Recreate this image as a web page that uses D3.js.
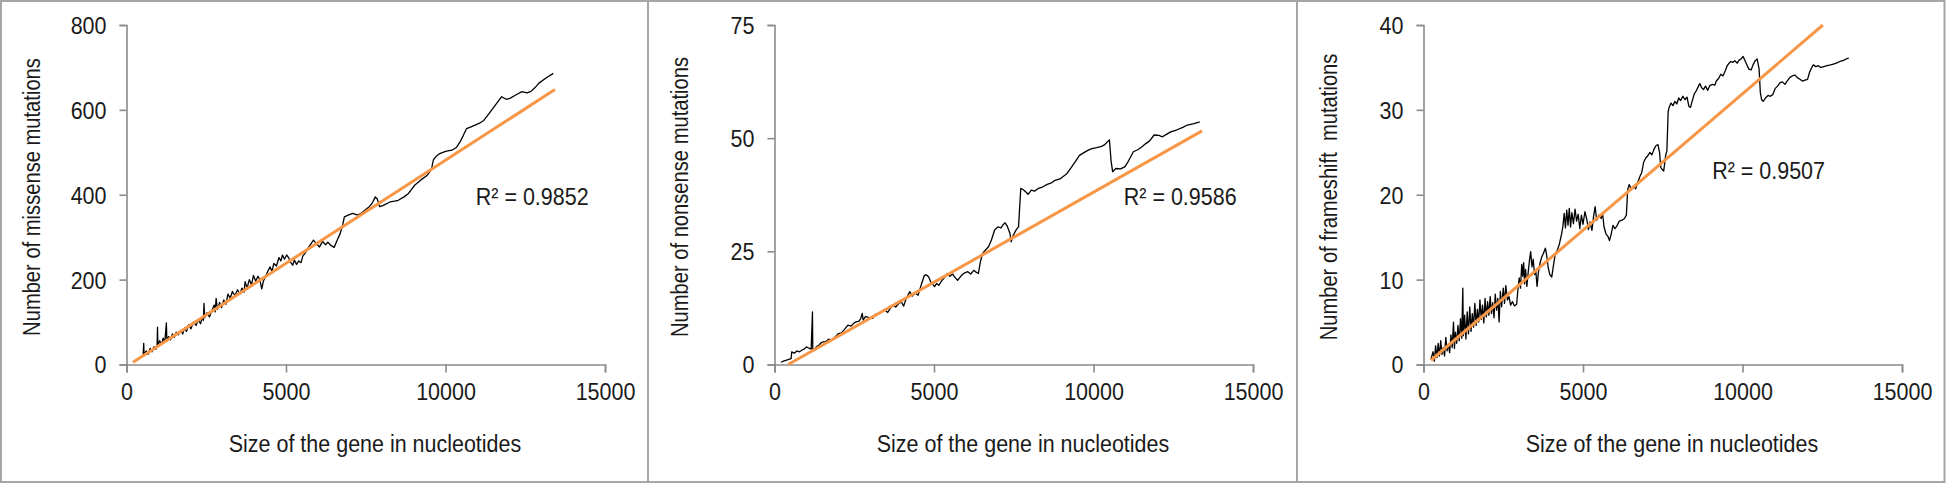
<!DOCTYPE html>
<html>
<head>
<meta charset="utf-8">
<script src="https://cdn.jsdelivr.net/npm/d3@7"></script>
<style>
  html, body { margin: 0; padding: 0; background: #fff; }
  svg { display: block; }
  text { font-family: "Liberation Sans", Arial, sans-serif; fill: #1a1a1a; white-space: pre; }
</style>
</head>
<body>
<svg id="chart" width="1946" height="484"></svg>
<script>
// ---------- DATA ----------
const xTicks = [0, 5000, 10000, 15000];
const xTitle = "Size of the gene in nucleotides";

const missenseTicks = [0, 200, 400, 600, 800];
const nonsenseTicks = [0, 25, 50, 75];
const frameshiftTicks = [0, 10, 20, 30, 40];

const yTitles = ["Number of missense mutations", "Number of nonsense mutations", "Number of frameshift  mutations"];
const r2Labels = ["R² = 0.9852", "R² = 0.9586", "R² = 0.9507"];

// [gene size, number of mutations]
const missense = [[250,8],[350,12],[450,17],[520,22],[540,50],[550,24],[620,32],[680,24],[740,38],[800,30],[860,42],[920,36],[960,47],[972,88],[985,44],[1040,56],[1100,48],[1150,62],[1200,52],[1250,98],[1265,58],[1320,66],[1380,58],[1440,72],[1500,64],[1560,76],[1620,70],[1700,80],[1760,72],[1820,86],[1880,78],[1950,94],[2020,84],[2100,100],[2180,92],[2250,106],[2320,96],[2380,112],[2410,104],[2430,144],[2450,110],[2520,122],[2600,112],[2680,128],[2750,140],[2780,124],[2810,156],[2850,130],[2920,146],[2980,134],[3050,152],[3120,142],[3180,166],[3250,156],[3320,172],[3400,162],[3480,176],[3550,166],[3620,180],[3680,170],[3720,195],[3780,180],[3850,200],[3920,188],[3980,210],[4050,196],[4120,208],[4180,200],[4240,178],[4290,196],[4350,206],[4420,218],[4500,230],[4560,220],[4620,238],[4700,232],[4780,252],[4840,244],[4890,258],[4950,248],[5020,258],[5080,252],[5150,240],[5210,234],[5260,246],[5330,236],[5400,244],[5470,240],[5530,256],[5600,262],[5670,272],[5760,282],[5860,293],[5950,285],[6050,277],[6150,290],[6240,282],[6310,288],[6420,280],[6510,276],[6600,292],[6700,309],[6780,330],[6830,348],[6950,352],[7090,356],[7250,352],[7350,356],[7500,365],[7610,372],[7700,380],[7800,395],[7860,390],[7935,372],[8050,375],[8260,383],[8400,385],[8520,387],[8700,395],[8840,403],[9040,423],[9230,435],[9430,446],[9560,460],[9620,482],[9700,490],[9820,497],[10000,502],[10200,505],[10350,512],[10460,525],[10560,540],[10660,556],[10800,560],[11050,568],[11200,575],[11370,592],[11550,610],[11760,631],[11900,625],[12020,627],[12200,635],[12400,643],[12550,640],[12670,643],[12800,652],[12930,663],[13150,675],[13380,686]];

const nonsense = [[200,0.5],[300,0.8],[400,1.0],[520,1.3],[540,2.8],[620,2.5],[700,3.0],[780,2.8],[870,3.2],[950,3.5],[1000,3.9],[1080,3.6],[1150,3.4],[1190,11.6],[1200,3.2],[1260,3.5],[1330,4.0],[1400,4.3],[1460,4.8],[1520,5.0],[1600,5.0],[1700,5.6],[1800,5.4],[1900,6.1],[2000,6.8],[2100,7.0],[2200,7.8],[2300,8.7],[2400,8.5],[2500,9.2],[2560,9.4],[2650,9.6],[2700,10.1],[2750,11.3],[2780,9.8],[2850,10.6],[2950,10.4],[3080,10.2],[3150,11.0],[3250,11.2],[3350,11.6],[3470,12.0],[3550,11.5],[3650,12.6],[3720,13.1],[3800,12.7],[3900,13.5],[3980,13.8],[4050,12.9],[4120,14.4],[4240,16.1],[4320,15.1],[4400,15.8],[4500,15.3],[4600,17.6],[4700,19.7],[4760,19.8],[4830,19.4],[4900,18.2],[5020,17.2],[5080,17.9],[5150,17.5],[5250,18.6],[5330,19.2],[5410,20.1],[5500,19.5],[5580,20.0],[5650,19.3],[5740,18.6],[5850,19.6],[5950,20.2],[6060,20.5],[6150,20.0],[6250,20.8],[6320,20.4],[6390,20.1],[6450,22.5],[6520,24.5],[6600,25.2],[6710,26.0],[6800,27.5],[6900,29.7],[7000,30.4],[7100,30.2],[7180,31.0],[7230,31.3],[7300,30.5],[7380,29.0],[7420,27.1],[7480,28.5],[7580,29.8],[7650,30.4],[7720,38.9],[7800,38.6],[7880,38.1],[7950,37.6],[8050,38.5],[8150,38.3],[8270,38.9],[8400,39.2],[8550,39.8],[8700,40.2],[8790,40.7],[8950,41.0],[9100,41.8],[9170,42.2],[9300,43.5],[9430,44.8],[9560,46.2],[9700,46.8],[9850,47.4],[9950,47.7],[10100,47.9],[10250,48.2],[10340,48.5],[10450,49.3],[10500,49.6],[10550,45.0],[10600,42.6],[10700,43.3],[10850,43.2],[10990,43.7],[11100,45.0],[11250,47.0],[11400,47.5],[11500,48.0],[11640,48.8],[11760,49.4],[11900,50.7],[12050,50.6],[12160,50.3],[12300,50.9],[12420,51.4],[12600,51.8],[12800,52.4],[12940,52.9],[13150,53.2],[13330,53.6]];

const frameshift = [[230,0.6],[300,1.5],[340,0.4],[380,2.2],[420,0.8],[460,2.5],[500,1.0],[540,2.8],[580,1.2],[620,2.0],[660,1.0],[700,3.2],[740,1.6],[780,2.4],[820,1.4],[860,3.5],[900,2.0],[940,5.0],[970,1.9],[1000,3.8],[1040,2.5],[1080,4.6],[1120,2.8],[1160,5.4],[1200,3.1],[1232,9.0],[1250,3.4],[1290,5.8],[1330,3.0],[1370,6.2],[1410,3.6],[1450,6.8],[1490,3.9],[1530,6.0],[1570,4.4],[1610,7.2],[1650,4.6],[1690,6.5],[1730,5.0],[1770,7.6],[1810,5.3],[1850,7.0],[1890,4.9],[1930,7.8],[1970,5.6],[2010,7.4],[2050,5.8],[2090,8.0],[2130,6.0],[2170,7.3],[2210,5.5],[2250,8.3],[2290,6.4],[2330,7.8],[2370,5.0],[2410,8.6],[2450,6.8],[2500,9.0],[2540,7.2],[2580,9.3],[2630,7.6],[2680,8.0],[2730,7.0],[2790,7.4],[2850,6.9],[2920,7.1],[2960,8.8],[3000,10.2],[3040,9.0],[3080,11.8],[3110,10.4],[3140,12.0],[3170,9.5],[3200,11.2],[3240,9.2],[3280,10.8],[3320,12.2],[3360,13.3],[3400,11.5],[3440,12.4],[3480,10.6],[3520,11.0],[3560,9.2],[3600,10.8],[3650,11.9],[3700,12.6],[3760,13.1],[3820,13.7],[3860,12.9],[3910,11.4],[3960,10.6],[4020,10.3],[4070,11.6],[4130,13.0],[4200,13.5],[4260,14.2],[4330,15.4],[4370,16.3],[4410,17.8],[4450,16.1],[4490,18.2],[4530,16.4],[4570,18.4],[4610,16.2],[4650,17.9],[4700,16.6],[4750,18.3],[4800,16.9],[4850,17.7],[4900,16.0],[4950,17.6],[5000,16.5],[5060,18.0],[5120,17.1],[5170,15.9],[5220,16.8],[5280,15.8],[5330,17.4],[5380,18.6],[5430,17.0],[5500,17.6],[5570,17.2],[5610,17.9],[5660,16.2],[5720,15.4],[5780,15.1],[5830,14.6],[5880,15.3],[5940,16.4],[6000,16.0],[6060,16.3],[6140,16.9],[6220,17.0],[6300,17.2],[6360,17.6],[6400,20.6],[6450,21.2],[6520,20.6],[6580,21.0],[6650,20.7],[6720,21.5],[6790,22.2],[6840,22.6],[6900,23.8],[6960,24.3],[7030,24.6],[7100,25.0],[7160,24.7],[7230,25.4],[7290,25.8],[7350,25.9],[7400,25.0],[7440,23.2],[7480,23.0],[7530,22.8],[7590,24.6],[7630,25.2],[7670,29.8],[7700,30.3],[7760,30.8],[7820,30.5],[7880,31.0],[7940,30.7],[8000,31.4],[8060,31.1],[8130,31.6],[8200,31.2],[8260,31.5],[8320,30.4],[8370,30.3],[8420,31.0],[8490,31.9],[8560,32.3],[8620,32.8],[8660,33.1],[8720,32.6],[8780,32.4],[8840,32.8],[8910,32.3],[8980,32.9],[9060,33.0],[9130,32.9],[9180,33.4],[9250,33.7],[9320,34.2],[9390,34.0],[9460,34.6],[9520,35.2],[9580,35.5],[9630,35.7],[9700,35.6],[9760,35.8],[9830,35.5],[9900,35.9],[9960,36.0],[10020,36.3],[10080,35.8],[10150,35.2],[10200,34.8],[10270,34.7],[10330,35.3],[10400,35.8],[10460,36.0],[10520,34.8],[10560,32.0],[10600,31.2],[10650,31.0],[10720,31.4],[10800,31.7],[10870,31.6],[10950,31.8],[11020,32.5],[11100,32.8],[11180,33.2],[11250,33.3],[11330,33.0],[11400,33.4],[11480,33.8],[11560,34.0],[11640,34.1],[11720,33.8],[11800,33.6],[11880,33.4],[11960,33.5],[12040,33.6],[12100,34.4],[12160,34.9],[12220,35.3],[12300,35.1],[12380,35.2],[12450,35.0],[12550,35.1],[12650,35.2],[12760,35.3],[12850,35.4],[12940,35.5],[13050,35.7],[13150,35.8],[13250,36.0],[13330,36.1]];

// linear trend line end points
const missenseTrend = [[204, 5.4], [13431, 648]];
const nonsenseTrend = [[428, 0], [13403, 51.6]];
const frameshiftTrend = [[234, 0.5], [12520, 40]];

// R² label anchors (data coordinates, start of text)
const r2Pos = [[10950, 395], [10950, 37], [9050, 22.9]];

// ---------- DRAW ----------
const svg = d3.select("#chart");
const W = 1946, H = 484;
const panelLefts = [0, 648, 1297];
const FS = 24, SX = 0.895, SXY = 0.84;

// frame
svg.append("rect").attr("x", 1).attr("y", 1).attr("width", W - 2.5).attr("height", H - 3)
  .attr("fill", "none").attr("stroke", "#a6a6a6").attr("stroke-width", 2);
[648, 1297].forEach(x => svg.append("line").attr("x1", x).attr("x2", x).attr("y1", 1).attr("y2", H - 2)
  .attr("stroke", "#a6a6a6").attr("stroke-width", 2));

const panels = [
  { data: missense, trend: missenseTrend, ticks: missenseTicks, ymax: 800 },
  { data: nonsense, trend: nonsenseTrend, ticks: nonsenseTicks, ymax: 75 },
  { data: frameshift, trend: frameshiftTrend, ticks: frameshiftTicks, ymax: 40 }
];

const axisColor = "#8a8a8a";

panels.forEach((p, i) => {
  const left = panelLefts[i] + 126.5;
  const right = left + 478.5;
  const top = 25, bottom = 364.5;
  const x = d3.scaleLinear().domain([0, 15000]).range([left, right]);
  const y = d3.scaleLinear().domain([0, p.ymax]).range([bottom, top]);
  const g = svg.append("g");

  // y axis
  const ya = g.append("g").attr("transform", `translate(${left},0)`)
    .call(d3.axisLeft(y).tickValues(p.ticks).tickSize(7).tickPadding(0).tickFormat(d3.format("d")));
  ya.attr("font-family", null);
  ya.select(".domain").attr("stroke", axisColor).attr("stroke-width", 1.6);
  ya.selectAll(".tick line").attr("stroke", axisColor).attr("stroke-width", 1.6);
  ya.selectAll(".tick text").attr("font-size", FS).attr("x", 0).attr("dy", "0.35em")
    .attr("transform", `translate(-20,0) scale(${SX},1)`).attr("fill", "#1a1a1a");

  // x axis
  const xa = g.append("g").attr("transform", `translate(0,${bottom})`)
    .call(d3.axisBottom(x).tickValues(xTicks).tickSize(8).tickPadding(0).tickFormat(d3.format("d")));
  xa.attr("font-family", null);
  xa.select(".domain").attr("stroke", axisColor).attr("stroke-width", 1.6);
  xa.selectAll(".tick line").attr("stroke", axisColor).attr("stroke-width", 1.6);
  xa.selectAll(".tick text").attr("font-size", FS).attr("y", 0).attr("dy", "0.35em")
    .attr("transform", `translate(0,${392 - bottom}) scale(${SX},1)`).attr("fill", "#1a1a1a");

  // data line
  const line = d3.line().x(d => x(d[0])).y(d => y(d[1]));
  g.append("path").datum(p.data).attr("d", line)
    .attr("fill", "none").attr("stroke", "#000").attr("stroke-width", 1.3).attr("stroke-linejoin", "round");

  // trend line
  g.append("path").datum(p.trend).attr("d", line)
    .attr("fill", "none").attr("stroke", "#F79646").attr("stroke-width", 3);

  // R² label
  g.append("text").attr("font-size", FS)
    .attr("transform", `translate(${x(r2Pos[i][0])},${y(r2Pos[i][1])}) scale(${SX},1)`)
    .attr("dy", "0.35em").text(r2Labels[i]);

  // x title
  g.append("text").attr("font-size", FS).attr("text-anchor", "middle")
    .attr("transform", `translate(${panelLefts[i] + 375},444) scale(${SX},1)`)
    .attr("dy", "0.35em").text(xTitle);

  // y title
  g.append("text").attr("font-size", FS).attr("text-anchor", "middle")
    .attr("transform", `translate(${panelLefts[i] + 32},197) rotate(-90) scale(${SXY},1)`)
    .attr("dy", "0.35em").text(yTitles[i]);
});
</script>
</body>
</html>
